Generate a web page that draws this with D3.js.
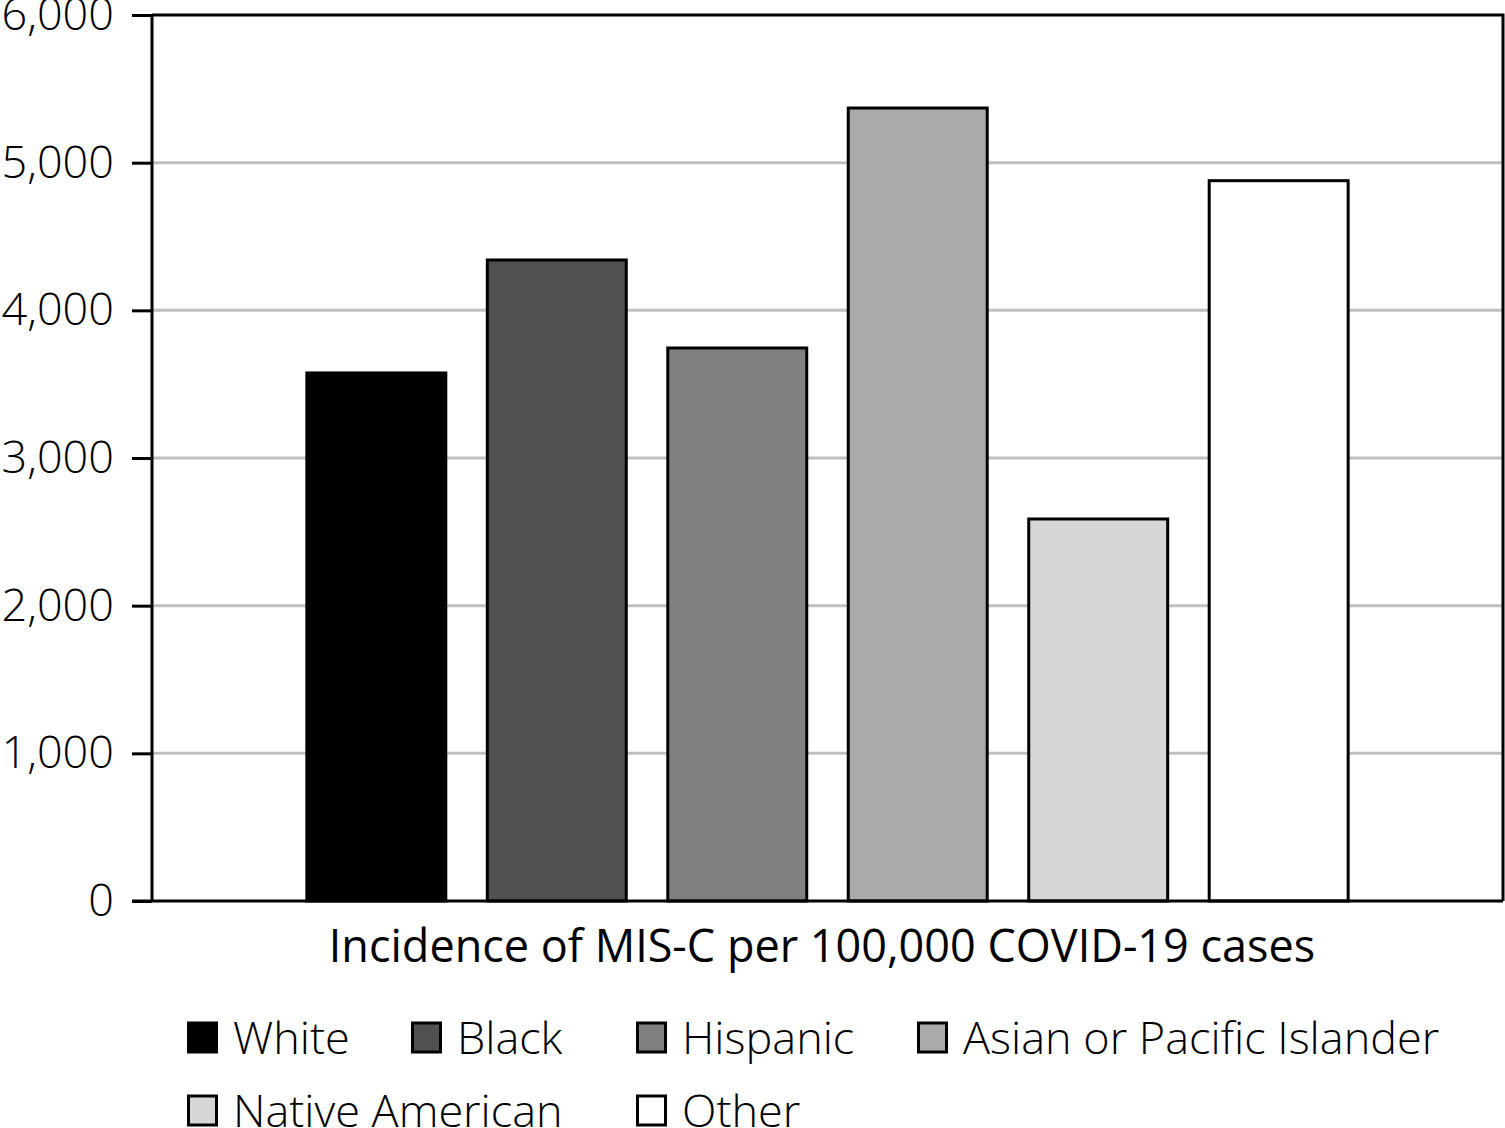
<html>
<head>
    <title>MIS-C incidence</title>
    <script src="https://d3js.org/d3.v7.min.js"></script>
</head>
<body>
<div class="chart-wrapper"></div>
</body>
<script>
    var groups = ['White', 'Black', 'Hispanic', 'Asian or Pacific Islander', 'Native American', 'Other'];
    var values = [3576, 4341, 3745, 5370, 2587, 4878];
    var fills = ['#000000', '#505050', '#808080', '#aaaaaa', '#d6d6d6', '#ffffff'];
    var yTicks = [0, 1000, 2000, 3000, 4000, 5000, 6000];
    var xTitle = 'Incidence of MIS-C per 100,000 COVID-19 cases';

    var width = 1505, height = 1128;
    var plotLeft = 152, plotRight = 1503, plotTop = 15, plotBottom = 901;

    var svg = d3.select('.chart-wrapper')
        .append('svg')
        .attr('width', width).attr('height', height);

    var y = d3.scaleLinear().domain([0, 6000]).range([plotBottom, plotTop]);
    var x = d3.scaleBand().domain(groups).range([plotLeft, plotRight])
        .paddingInner(0.23).paddingOuter(0.858);

    // grid
    svg.append('g')
        .selectAll('line')
        .data(yTicks.slice(1, -1))
        .enter()
        .append('line')
        .attr('x1', plotLeft).attr('x2', plotRight)
        .attr('y1', function (d) { return y(d) }).attr('y2', function (d) { return y(d) })
        .attr('stroke', '#c0c0c0').attr('stroke-width', 3);

    // frame top/right
    svg.append('path')
        .attr('d', 'M' + plotLeft + ',' + plotTop + 'H' + plotRight + 'V' + plotBottom)
        .attr('fill', 'none').attr('stroke', '#000').attr('stroke-width', 3);

    // bars
    svg.append('g')
        .selectAll('rect')
        .data(values)
        .enter()
        .append('rect')
        .attr('x', function (d, i) { return x(groups[i]) })
        .attr('width', x.bandwidth())
        .attr('y', function (d) { return y(d) })
        .attr('height', function (d) { return y(0) - y(d) })
        .attr('fill', function (d, i) { return fills[i] })
        .attr('stroke', '#000').attr('stroke-width', 3);

    // y axis
    var yAxis = svg.append('g')
        .attr('class', 'axis')
        .attr('transform', 'translate(' + plotLeft + ',0)')
        .call(d3.axisLeft(y).tickValues(yTicks).tickSize(20).tickPadding(18)
            .tickFormat(d3.format(',')));
    yAxis.select('.domain').remove();
    yAxis.selectAll('line').attr('stroke', '#000').attr('stroke-width', 3);
    svg.append('line')
        .attr('x1', plotLeft).attr('x2', plotLeft).attr('y1', plotTop).attr('y2', plotBottom)
        .attr('stroke', '#000').attr('stroke-width', 3);
    svg.append('line')
        .attr('x1', plotLeft - 20).attr('x2', plotRight).attr('y1', plotBottom).attr('y2', plotBottom)
        .attr('stroke', '#000').attr('stroke-width', 3);

    svg.append('text')
        .attr('class', 'x-title')
        .attr('x', 822).attr('y', 962)
        .attr('text-anchor', 'middle')
        .text(xTitle);

    // legend
    var legendCols = [187, 411, 636, 917, 187, 636];
    var legendRows = [0, 0, 0, 0, 1, 1];
    var legend = svg.append('g')
        .selectAll('g')
        .data(groups)
        .enter()
        .append('g')
        .attr('transform', function (d, i) { return 'translate(' + legendCols[i] + ',' + (1037 + legendRows[i] * 73) + ')' });
    legend.append('rect')
        .attr('x', 1.5).attr('y', -14).attr('width', 28).attr('height', 29)
        .attr('fill', function (d, i) { return fills[i] })
        .attr('stroke', '#000').attr('stroke-width', 3);
    legend.append('text')
        .attr('class', 'legend-label')
        .attr('x', 46).attr('y', 17)
        .text(function (d) { return d });
</script>
<style lang="css">
    body { margin: 0; background-color: #ffffff; }
    .axis text {
        font-family: 'Open Sans', sans-serif;
        font-weight: 300;
        font-size: 45px;
        fill: #000;
    }
    .x-title {
        font-family: 'Open Sans', sans-serif;
        font-size: 45px;
        fill: #000;
    }
    .legend-label {
        font-family: 'Open Sans', sans-serif;
        font-weight: 300;
        font-size: 45px;
        fill: #000;
    }
</style>
</html>
